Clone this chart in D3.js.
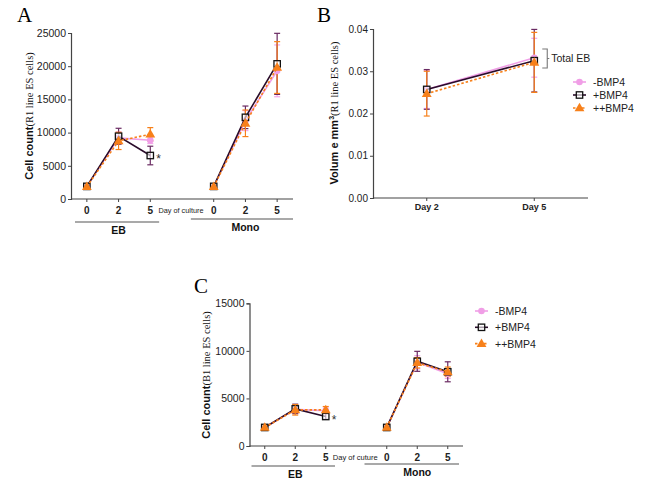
<!DOCTYPE html>
<html><head><meta charset="utf-8">
<script src="https://cdn.jsdelivr.net/npm/d3@7"></script>
<style>body{margin:0;background:#fff}svg{display:block}</style>
</head><body>
<script>
// ---------- data ----------
const days = ["0", "2", "5"];
const cultures = ["EB", "Mono"];
const seriesNames = ["-BMP4", "+BMP4", "++BMP4"];

// Panel A (R1 line, cell count) order: EB0, EB2, EB5, Mono0, Mono2, Mono5
const aMinus    = [1900, 9200, 8850, 1900, 11800, 19300];
const aMinusErr = [200, 900, 500, 200, 1500, 3900];
const aPlus     = [1900, 9450, 6550, 1900, 12300, 20350];
const aPlusErr  = [200, 1200, 1400, 200, 1700, 4600];
const aPP       = [1850, 8750, 9750, 1850, 11400, 19800];
const aPPErr    = [200, 1300, 1000, 200, 2000, 3900];
const aTicks    = [0, 5000, 10000, 15000, 20000, 25000];

// Panel B (R1 line, EB volume)
const bDays     = ["Day 2", "Day 5"];
const bMinus    = [0.0257, 0.0332];
const bMinusErr = [0.0045, 0.0046];
const bPlus     = [0.0257, 0.0325];
const bPlusErr  = [0.0047, 0.0074];
const bPP       = [0.0247, 0.0321];
const bPPErr    = [0.0053, 0.0071];
const bTicks    = [0, 0.01, 0.02, 0.03, 0.04];

// Panel C (B1 line, cell count)
const cMinus    = [1950, 3850, 3700, 1950, 8800, 7600];
const cMinusErr = [150, 400, 300, 150, 700, 500];
const cPlus     = [1950, 3900, 3100, 1950, 8900, 7800];
const cPlusErr  = [150, 500, 300, 150, 1050, 1050];
const cPP       = [1950, 3800, 3800, 1950, 8750, 7800];
const cPPErr    = [150, 550, 350, 150, 550, 500];
const cTicks    = [0, 5000, 10000, 15000];

// ---------- styles ----------
const style = {
  "-BMP4":  {line: "#f09ee6", err: "#f4a6ea", dash: null, marker: "circle"},
  "+BMP4":  {line: "#2a0c2a", err: "#6a2a62", dash: null, marker: "square"},
  "++BMP4": {line: "#f7801a", err: "#f7801a", dash: "2.5,2", marker: "triangle"}
};
const axisCol = "#444";
const sans = "Arial, 'Liberation Sans', sans-serif";
const serif = "'Times New Roman', 'Liberation Serif', serif";

const svg = d3.select("body").append("svg").attr("width", 661).attr("height", 485);

function marker(g, type, x, y, col) {
  if (type === "circle") {
    g.append("circle").attr("cx", x).attr("cy", y).attr("r", 3.3).attr("fill", col);
  } else if (type === "square") {
    g.append("rect").attr("x", x - 3.2).attr("y", y - 3.2).attr("width", 6.4).attr("height", 6.4)
      .attr("fill", "#fff").attr("fill-opacity", 0.6).attr("stroke", "#111").attr("stroke-width", 1.3);
  } else {
    const s = d3.symbol().type(d3.symbolTriangle).size(42);
    g.append("path").attr("d", s()).attr("transform", `translate(${x},${y + 0.5})`).attr("fill", col);
  }
}

function drawSeries(g, x, y, xs, vals, errs, name) {
  const st = style[name];
  vals.forEach((v, i) => {
    const px = x(xs[i]), y1 = y(v + errs[i]), y2 = y(v - errs[i]);
    g.append("line").attr("x1", px).attr("x2", px).attr("y1", y1).attr("y2", y2)
      .attr("stroke", st.err).attr("stroke-width", 1.2);
    [y1, y2].forEach(yy => g.append("line").attr("x1", px - 3).attr("x2", px + 3)
      .attr("y1", yy).attr("y2", yy).attr("stroke", st.err).attr("stroke-width", 1.2));
  });
}

function drawLines(g, x, y, xs, vals, name, segments) {
  const st = style[name];
  const line = d3.line().x(d => x(d[0])).y(d => y(d[1]));
  segments.forEach(seg => {
    const data = seg.map(i => [xs[i], vals[i]]);
    g.append("path").attr("d", line(data)).attr("fill", "none")
      .attr("stroke", st.line).attr("stroke-width", 1.6)
      .attr("stroke-dasharray", st.dash);
  });
}

function yTitle(x, cy, bold, rest, sup) {
  const t = svg.append("text").attr("transform", `translate(${x},${cy}) rotate(-90)`)
    .attr("text-anchor", "middle").attr("fill", "#111");
  t.append("tspan").attr("font-family", sans).attr("font-weight", "bold").attr("font-size", 11).text(bold);
  if (sup) t.append("tspan").attr("font-family", sans).attr("font-weight", "bold").attr("font-size", 7).attr("dy", -4).text(sup);
  t.append("tspan").attr("font-family", serif).attr("font-size", 10.5).attr("dy", sup ? 4 : 0).text(rest);
}

function yAxis(g, left, y, ticks, fmt, fs) {
  const ax = g.append("g").attr("transform", `translate(${left},0)`)
    .call(d3.axisLeft(y).tickValues(ticks).tickFormat(fmt).tickSize(3).tickPadding(2));
  ax.select(".domain").attr("stroke", axisCol).attr("stroke-width", 1.2);
  ax.selectAll(".tick line").attr("stroke", axisCol);
  ax.selectAll(".tick text").attr("font-family", sans).attr("font-size", fs).attr("fill", "#222");
}

// ---------- group panels (A, C) ----------
function groupPanel(cfg) {
  const g = svg.append("g");
  const xs = [];
  cultures.forEach((c, ci) => days.forEach((d, di) => xs.push(ci * 4 + di)));
  const x = d3.scaleLinear().domain([-0.5, 6.5]).range([cfg.left, cfg.right]);
  const y = d3.scaleLinear().domain([0, cfg.ymax]).range([cfg.bottom, cfg.top]);

  yAxis(g, cfg.left, y, cfg.ticks, d3.format("d"), 10.5);
  g.append("line").attr("x1", cfg.left).attr("x2", cfg.right).attr("y1", cfg.bottom).attr("y2", cfg.bottom)
    .attr("stroke", axisCol).attr("stroke-width", 1.2);
  xs.forEach((xv, i) => {
    g.append("line").attr("x1", x(xv)).attr("x2", x(xv)).attr("y1", cfg.bottom).attr("y2", cfg.bottom + 3)
      .attr("stroke", axisCol);
    g.append("text").attr("x", x(xv)).attr("y", cfg.bottom + 15).attr("text-anchor", "middle")
      .attr("font-family", sans).attr("font-weight", "bold").attr("font-size", 10).attr("fill", "#222")
      .text(days[i % 3]);
  });
  g.append("text").attr("x", x(3) - 1).attr("y", cfg.bottom + 14).attr("text-anchor", "middle")
    .attr("font-family", sans).attr("font-size", 8).attr("fill", "#222")
    .attr("textLength", cfg.docLen).attr("lengthAdjust", "spacingAndGlyphs").text(cfg.docText);
  cultures.forEach((c, ci) => {
    const x1 = x(ci * 4 - 0.5) + cfg.grp[ci][0], x2 = x(ci * 4 + 2.5) + cfg.grp[ci][1];
    const ly = cfg.bottom + cfg.grp[ci][2];
    g.append("line").attr("x1", x1).attr("x2", x2).attr("y1", ly).attr("y2", ly)
      .attr("stroke", "#555").attr("stroke-width", 1.2);
    g.append("text").attr("x", x(ci * 4 + 1)).attr("y", ly + 12).attr("text-anchor", "middle")
      .attr("font-family", sans).attr("font-weight", "bold").attr("font-size", 10.5).attr("fill", "#111").text(c);
  });

  const sets = [[cfg.minus, cfg.minusErr, "-BMP4"], [cfg.plus, cfg.plusErr, "+BMP4"], [cfg.pp, cfg.ppErr, "++BMP4"]];
  const segs = [[0, 1, 2], [3, 4, 5]];
  sets.forEach(s => drawSeries(g, x, y, xs, s[0], s[1], s[2]));
  sets.forEach(s => {
    drawLines(g, x, y, xs, s[0], s[2], segs);
    s[0].forEach((v, i) => marker(g, style[s[2]].marker, x(xs[i]), y(v), style[s[2]].line));
  });
  g.append("text").attr("x", x(xs[2]) + 6).attr("y", y(cfg.plus[2]) + 7)
    .attr("font-family", sans).attr("font-size", 12).attr("fill", "#333").text("*");
}

// Panel A
svg.append("text").attr("x", 17).attr("y", 22).attr("font-family", serif).attr("font-size", 21).text("A");
groupPanel({left: 71, right: 293, top: 33, bottom: 199, ymax: 25000, ticks: aTicks,
  minus: aMinus, minusErr: aMinusErr, plus: aPlus, plusErr: aPlusErr, pp: aPP, ppErr: aPPErr,
  docText: "Day of culture", docLen: 45, grp: [[4, -7, 23], [-7, 0, 20]]});
yTitle(33, 116, "Cell count", "(R1 line ES cells)");

// Panel C
svg.append("text").attr("x", 194).attr("y", 293).attr("font-family", serif).attr("font-size", 21).text("C");
groupPanel({left: 249.5, right: 463, top: 303.3, bottom: 446, ymax: 15000, ticks: cTicks,
  minus: cMinus, minusErr: cMinusErr, plus: cPlus, plusErr: cPlusErr, pp: cPP, ppErr: cPPErr,
  docText: "Day of cuture", docLen: 45, grp: [[2, -6, 20], [-7, -4, 18]]});
yTitle(210, 375, "Cell count", "(B1 line ES cells)");

// ---------- Panel B ----------
(function () {
  const g = svg.append("g");
  const left = 373, right = 588, top = 29, bottom = 198;
  const x = d3.scaleLinear().domain([-0.5, 1.5]).range([left, right]);
  const y = d3.scaleLinear().domain([0, 0.04]).range([bottom, top]);
  svg.append("text").attr("x", 317).attr("y", 22).attr("font-family", serif).attr("font-size", 21).text("B");
  yAxis(g, left, y, bTicks, d3.format(".2f"), 10);
  g.append("line").attr("x1", left).attr("x2", right).attr("y1", bottom).attr("y2", bottom)
    .attr("stroke", axisCol).attr("stroke-width", 1.2);
  const xs = [0, 1];
  bDays.forEach((d, i) => {
    g.append("line").attr("x1", x(i)).attr("x2", x(i)).attr("y1", bottom).attr("y2", bottom + 3).attr("stroke", axisCol);
    g.append("text").attr("x", x(i)).attr("y", bottom + 12).attr("text-anchor", "middle")
      .attr("font-family", sans).attr("font-weight", "bold").attr("font-size", 9).attr("fill", "#222").text(d);
  });
  const sets = [[bMinus, bMinusErr, "-BMP4"], [bPlus, bPlusErr, "+BMP4"], [bPP, bPPErr, "++BMP4"]];
  sets.forEach(s => drawSeries(g, x, y, xs, s[0], s[1], s[2]));
  sets.forEach(s => {
    drawLines(g, x, y, xs, s[0], s[2], [[0, 1]]);
    s[0].forEach((v, i) => marker(g, style[s[2]].marker, x(i), y(v), style[s[2]].line));
  });
  const bx = x(1) + 8, by1 = 49, by2 = 68;
  g.append("path").attr("d", `M${bx},${by1}H${bx + 5}V${by2}H${bx}M${bx + 5},${(by1 + by2) / 2}h2`)
    .attr("fill", "none").attr("stroke", "#777").attr("stroke-width", 1.1);
  g.append("text").attr("x", bx + 9).attr("y", 62).attr("font-family", sans).attr("font-size", 10.5)
    .attr("fill", "#222").text("Total EB");
  yTitle(338, 113, "Volum e mm", "(R1 line ES cells)", "3");
})();

// ---------- legends ----------
function legend(x0, y0, gap) {
  const g = svg.append("g");
  seriesNames.forEach((n, i) => {
    const yy = y0 + i * gap, st = style[n];
    g.append("line").attr("x1", x0).attr("x2", x0 + 13).attr("y1", yy).attr("y2", yy)
      .attr("stroke", st.line).attr("stroke-width", 1.6).attr("stroke-dasharray", st.dash);
    marker(g, st.marker, x0 + 6.5, yy, st.line);
    g.append("text").attr("x", x0 + 20).attr("y", yy + 4).attr("font-family", sans).attr("font-size", 10.5)
      .attr("fill", "#222").text(n);
  });
}
legend(573, 82, 13);
legend(475, 311, 16.3);
</script>
</body></html>
